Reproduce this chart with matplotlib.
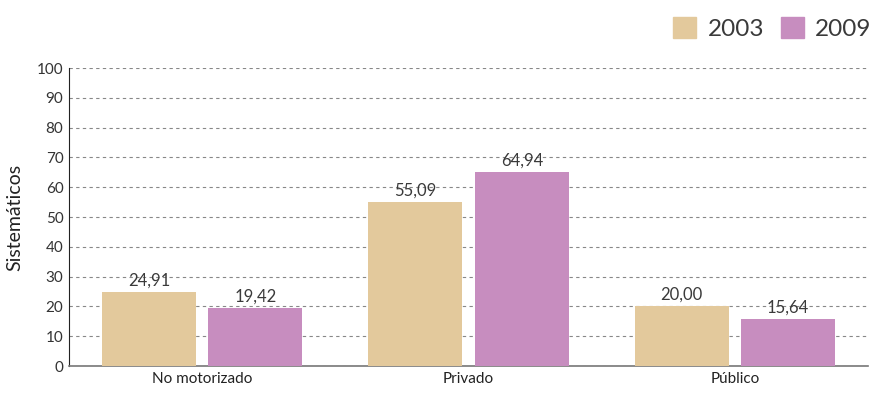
import matplotlib
matplotlib.use("Agg")
import matplotlib.pyplot as plt
import numpy as np
from matplotlib.patches import Patch

categories = ["No motorizado", "Privado", "Público"]
series_names = ["2003", "2009"]
values_2003 = [24.91, 55.09, 20.00]
values_2009 = [19.42, 64.94, 15.64]
colors = ["#E3C99C", "#C78DBF"]

plt.rcParams['font.family'] = ['Lato', 'DejaVu Sans']

fig = plt.figure(figsize=(8.74, 3.95), dpi=100)
ax = fig.add_axes([69/874, 1-366/395, (868-69)/874, (366-68)/395])

x = np.arange(len(categories))
w = 0.353
off = 0.2
for vals, sgn, col in [(values_2003, -1, colors[0]), (values_2009, 1, colors[1])]:
    bars = ax.bar(x + sgn*off, vals, width=w, color=col, zorder=3)
    for b, v in zip(bars, vals):
        ax.text(b.get_x()+b.get_width()/2, v+1.2, f"{v:.2f}".replace(".", ","),
                ha="center", va="bottom", fontsize=12, color="#3a3a3a")

ax.set_xlim(-0.5, 2.5)
ax.set_ylim(0, 100)
ax.set_yticks(range(0, 101, 10))
ax.yaxis.grid(True, linestyle=(0, (3, 3)), color="#888888", linewidth=0.8, zorder=0)
ax.set_xticks(x)
ax.set_xticklabels(categories, fontsize=11, color="#222222")
ax.tick_params(axis="both", length=0, pad=4)
ax.tick_params(axis="y", labelsize=11, labelcolor="#333333")
for s in ["top", "right"]:
    ax.spines[s].set_visible(False)
ax.spines["left"].set_color("#222222")
ax.spines["bottom"].set_color("#777777")
ax.spines["bottom"].set_linewidth(1.2)
ax.set_ylabel("Sistemáticos", fontsize=14, color="#222222", labelpad=10)

handles = [Patch(color=c) for c in colors]
fig.legend(handles, series_names, loc="upper right", bbox_to_anchor=(1.022, 1.012),
           ncol=2, frameon=False, prop={"size": 17.5},
           handlelength=0.95, handleheight=0.95,
           columnspacing=0.7, handletextpad=0.45, labelcolor="#3a3a3a")

fig.savefig("out.png", dpi=100)
